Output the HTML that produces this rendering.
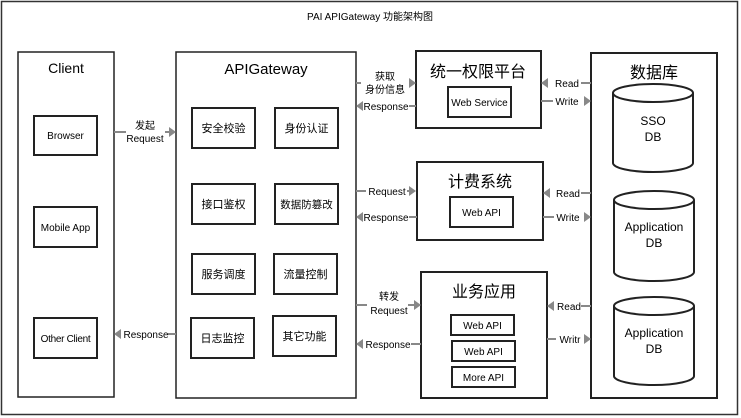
<!DOCTYPE html>
<html><head><meta charset="utf-8"><style>
html,body{margin:0;padding:0;background:#fff;}
svg{display:block;}
text{font-family:"Liberation Sans","Noto Sans CJK SC",sans-serif;fill:#000;}
.b{fill:#fff;stroke:#222;stroke-width:2;}
.t{fill:#fff;stroke:#222;stroke-width:1.5;}
.a{stroke:#888;stroke-width:2;fill:none;}
.h{fill:#888;}
.s{font-size:10px;}
</style></head><body>
<svg width="741" height="418" viewBox="0 0 741 418" xmlns="http://www.w3.org/2000/svg">
<rect x="1.5" y="1.5" width="736" height="413" fill="#fff" stroke="#333" stroke-width="1.5"/>
<text x="370" y="20" font-size="10" text-anchor="middle">PAI APIGateway 功能架构图</text>

<rect class="t" x="18" y="52" width="96" height="345"/>
<text x="66" y="73" font-size="14" text-anchor="middle">Client</text>
<g font-size="10" text-anchor="middle">
<rect class="b" x="34" y="116" width="63" height="39"/>
<text x="65.5" y="139">Browser</text>
<rect class="b" x="34" y="207" width="63" height="40"/>
<text x="65.5" y="231">Mobile App</text>
<rect class="b" x="34" y="318" width="63" height="40"/>
<text x="65.5" y="342" letter-spacing="-0.3">Other Client</text>
</g>

<rect class="t" x="176" y="52" width="180" height="346"/>
<text x="266" y="74" font-size="15" text-anchor="middle">APIGateway</text>
<g font-size="11" text-anchor="middle">
<rect class="b" x="192" y="108" width="63" height="40"/><text x="223.5" y="132">安全校验</text>
<rect class="b" x="275" y="108" width="63" height="40"/><text x="306.5" y="132">身份认证</text>
<rect class="b" x="192" y="184" width="63" height="40"/><text x="223.5" y="208">接口鉴权</text>
<rect class="b" x="275" y="184" width="63" height="40"/><text x="306.5" y="208" font-size="10.5">数据防篡改</text>
<rect class="b" x="192" y="254" width="63" height="40"/><text x="223.5" y="278">服务调度</text>
<rect class="b" x="274" y="254" width="63" height="40"/><text x="305.5" y="278">流量控制</text>
<rect class="b" x="191" y="318" width="63" height="40"/><text x="222.5" y="342">日志监控</text>
<rect class="b" x="273" y="316" width="63" height="40"/><text x="304.5" y="340">其它功能</text>
</g>

<rect class="b" x="416" y="51" width="125" height="77"/>
<text x="478" y="77" font-size="16" text-anchor="middle">统一权限平台</text>
<rect class="b" x="448" y="87" width="63" height="30"/>
<text x="479.5" y="106" font-size="10" text-anchor="middle">Web Service</text>

<rect class="b" x="417" y="162" width="126" height="78"/>
<text x="480" y="187" font-size="16" text-anchor="middle">计费系统</text>
<rect class="b" x="450" y="197" width="63" height="30"/>
<text x="481.5" y="216" font-size="10" text-anchor="middle">Web API</text>

<rect class="b" x="421" y="272" width="126" height="126"/>
<text x="484" y="297" font-size="16" text-anchor="middle">业务应用</text>
<g font-size="10" text-anchor="middle">
<rect class="b" x="451" y="315" width="63" height="20"/><text x="482.5" y="329">Web API</text>
<rect class="b" x="452" y="341" width="63" height="20"/><text x="483.5" y="355">Web API</text>
<rect class="b" x="452" y="367" width="63" height="20"/><text x="483.5" y="381">More API</text>
</g>

<rect class="b" x="591" y="53" width="126" height="345"/>
<text x="654" y="78" font-size="16" text-anchor="middle">数据库</text>
<g font-size="12" text-anchor="middle">
<path class="b" d="M613,93 V163 A40,9 0 0 0 693,163 V93"/>
<ellipse class="b" cx="653" cy="93" rx="40" ry="9"/>
<text x="653" y="125">SSO</text>
<text x="653" y="141">DB</text>
<path class="b" d="M614,200 V272 A40,9 0 0 0 694,272 V200"/>
<ellipse class="b" cx="654" cy="200" rx="40" ry="9"/>
<text x="654" y="231">Application</text>
<text x="654" y="247">DB</text>
<path class="b" d="M614,306 V376 A40,9 0 0 0 694,376 V306"/>
<ellipse class="b" cx="654" cy="306" rx="40" ry="9"/>
<text x="654" y="337">Application</text>
<text x="654" y="353">DB</text>
</g>

<g font-size="10" text-anchor="middle">
<line class="a" x1="114" y1="132" x2="126" y2="132"/><line class="a" x1="165" y1="132" x2="170" y2="132"/>
<polygon class="h" points="176,132 169,127 169,137"/>
<text x="145" y="129">发起</text><text x="145" y="142">Request</text>
<line class="a" x1="168" y1="334" x2="176" y2="334"/>
<polygon class="h" points="114,334 121,329 121,339"/>
<text x="146" y="338">Response</text>

<line class="a" x1="356" y1="83" x2="361" y2="83"/><line class="a" x1="409" y1="83" x2="410" y2="83"/>
<polygon class="h" points="416,83 409,78 409,88"/>
<text x="385" y="80">获取</text><text x="385" y="93">身份信息</text>
<line class="a" x1="409" y1="106" x2="416" y2="106"/>
<polygon class="h" points="356,106 363,101 363,111"/>
<text x="386" y="110">Response</text>

<line class="a" x1="356" y1="191" x2="366" y2="191"/><line class="a" x1="407" y1="191" x2="410" y2="191"/>
<polygon class="h" points="416,191 409,186 409,196"/>
<text x="387" y="195">Request</text>
<line class="a" x1="409" y1="217" x2="417" y2="217"/>
<polygon class="h" points="356,217 363,212 363,222"/>
<text x="386" y="221">Response</text>

<line class="a" x1="356" y1="305" x2="367" y2="305"/><line class="a" x1="408" y1="305" x2="414" y2="305"/>
<polygon class="h" points="421,305 414,300 414,310"/>
<text x="389" y="300">转发</text><text x="389" y="314">Request</text>
<line class="a" x1="411" y1="344" x2="421" y2="344"/>
<polygon class="h" points="356,344 363,339 363,349"/>
<text x="388" y="348">Response</text>

<line class="a" x1="581" y1="83" x2="591" y2="83"/>
<polygon class="h" points="541,83 548,78 548,88"/>
<text x="567" y="87">Read</text>
<line class="a" x1="541" y1="101" x2="553" y2="101"/>
<polygon class="h" points="591,101 584,96 584,106"/>
<text x="567" y="105">Write</text>
<line class="a" x1="581" y1="193" x2="591" y2="193"/>
<polygon class="h" points="543,193 550,188 550,198"/>
<text x="568" y="197">Read</text>
<line class="a" x1="543" y1="217" x2="554" y2="217"/>
<polygon class="h" points="591,217 584,212 584,222"/>
<text x="568" y="221">Write</text>
<line class="a" x1="581" y1="306" x2="591" y2="306"/>
<polygon class="h" points="547,306 554,301 554,311"/>
<text x="569" y="310">Read</text>
<line class="a" x1="547" y1="339" x2="556" y2="339"/>
<polygon class="h" points="591,339 584,334 584,344"/>
<text x="570" y="343">Writr</text>
</g>
</svg>
</body></html>
